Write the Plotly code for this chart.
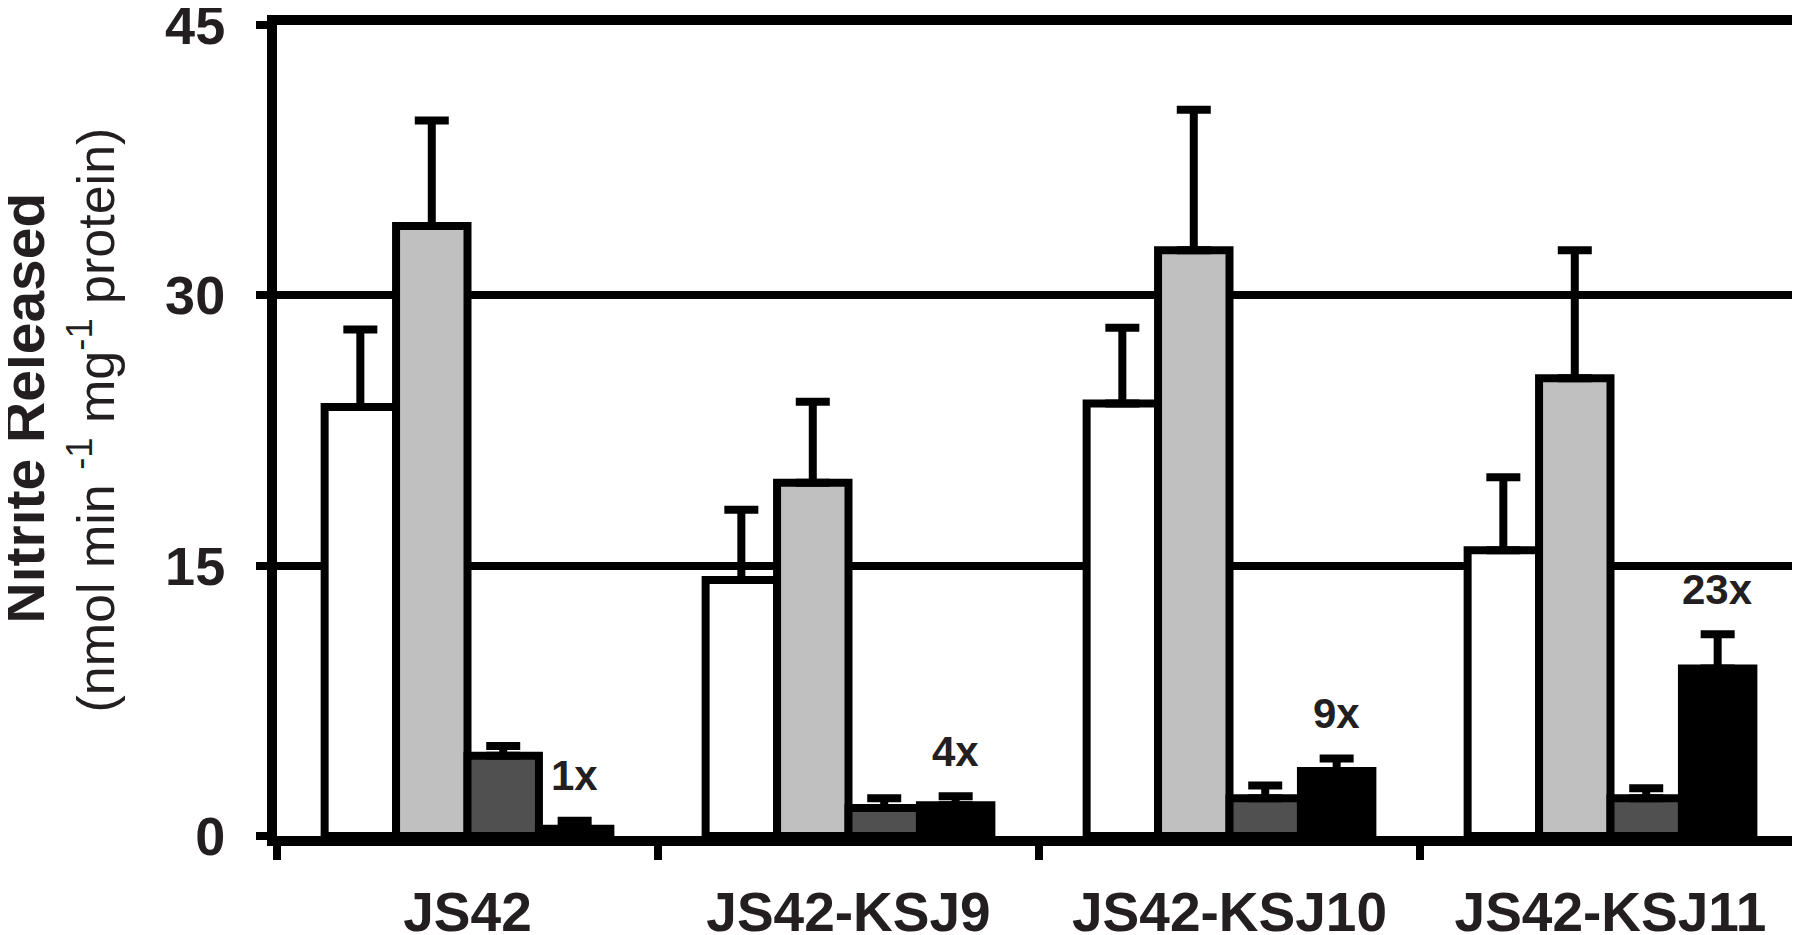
import plotly.graph_objects as go

strains = ["JS42", "JS42-KSJ9", "JS42-KSJ10", "JS42-KSJ11"]

# four treatments per strain (white, light gray, dark gray, black)
white_vals = [23.8, 14.2, 24.0, 15.85]
white_err = [4.3, 3.9, 4.2, 4.05]
gray_vals = [33.85, 19.6, 32.5, 25.4]
gray_err = [5.85, 4.5, 7.8, 7.1]
dark_vals = [4.45, 1.55, 2.1, 2.1]
dark_err = [0.55, 0.55, 0.7, 0.55]
black_vals = [0.4, 1.7, 3.6, 9.3]
black_err = [0.45, 0.5, 0.7, 1.9]

fold_labels = ["1x", "4x", "9x", "23x"]

FONT = "Liberation Sans, Arial, Helvetica, sans-serif"
TEXT = "#231f20"
BARGAP = 0.25

series = [
    (white_vals, white_err, "#ffffff"),
    (gray_vals, gray_err, "#c0c0c0"),
    (dark_vals, dark_err, "#505050"),
    (black_vals, black_err, "#000000"),
]

fig = go.Figure()
for vals, errs, color in series:
    fig.add_trace(
        go.Bar(
            x=strains,
            y=vals,
            marker=dict(color=color, line=dict(color="black", width=8)),
            error_y=dict(
                type="data",
                array=errs,
                arrayminus=[0] * len(errs),
                symmetric=False,
                color="black",
                thickness=8,
                width=17,
            ),
            showlegend=False,
        )
    )

# fold-change labels above the black bars
bar_w = (1 - BARGAP) / len(series)
black_offset = 1.5 * bar_w
for i, lab in enumerate(fold_labels):
    fig.add_annotation(
        x=i + black_offset,
        y=black_vals[i] + black_err[i] + 2.5,
        xref="x",
        yref="y",
        text=lab,
        showarrow=False,
        font=dict(family=FONT, size=42, color=TEXT, weight="bold"),
        xanchor="center",
        yanchor="middle",
    )

# two-line y-axis title
fig.add_annotation(
    x=0, y=0.5, xref="paper", yref="paper",
    xshift=-254, yshift=22,
    text="Nitrite Released",
    textangle=-90,
    showarrow=False,
    font=dict(family=FONT, size=57, color=TEXT, weight="bold"),
    xanchor="center", yanchor="middle",
)
fig.add_annotation(
    x=0, y=0.5, xref="paper", yref="paper",
    xshift=-185, yshift=10,
    text="(nmol min <sup>-1</sup> mg<sup>-1</sup> protein)",
    textangle=-90,
    showarrow=False,
    font=dict(family=FONT, size=52, color=TEXT),
    xanchor="center", yanchor="middle",
)

fig.update_layout(
    barmode="group",
    bargap=BARGAP,
    bargroupgap=0,
    width=1800,
    height=935,
    margin=dict(l=269, r=7, t=17, b=107, autoexpand=False),
    plot_bgcolor="white",
    paper_bgcolor="white",
    showlegend=False,
)

fig.update_xaxes(
    showline=True,
    linecolor="black",
    linewidth=10,
    mirror=True,
    ticks="outside",
    tickson="boundaries",
    ticklen=14,
    tickwidth=8,
    tickcolor="black",
    ticklabelstandoff=19,
    ticklabeloverflow="allow",
    tickfont=dict(family=FONT, size=55, color=TEXT, weight="bold"),
    showgrid=False,
)

fig.update_yaxes(
    range=[0, 45],
    tickvals=[0, 15, 30, 45],
    showline=True,
    linecolor="black",
    linewidth=10,
    mirror=True,
    ticks="outside",
    ticklen=11,
    tickwidth=8,
    tickcolor="black",
    ticklabelstandoff=20,
    ticklabeloverflow="allow",
    tickfont=dict(family=FONT, size=54, color=TEXT, weight="bold"),
    showgrid=True,
    gridcolor="black",
    gridwidth=8,
    zeroline=False,
)

fig.write_html("out.html")
